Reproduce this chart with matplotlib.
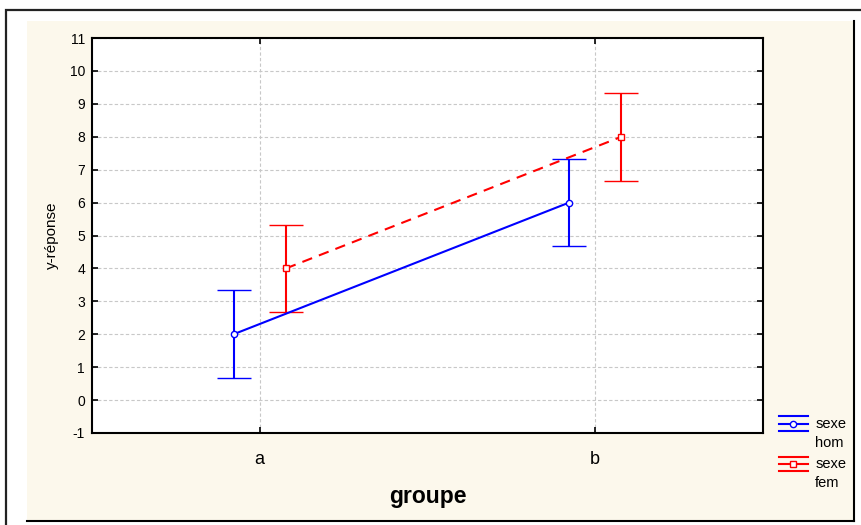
import matplotlib
matplotlib.use("Agg")
import matplotlib.pyplot as plt
from matplotlib.lines import Line2D
from matplotlib.patches import Rectangle
from matplotlib.legend_handler import HandlerBase

plt.rcParams['font.family'] = ['Liberation Sans', 'DejaVu Sans']
plt.rcParams['axes.unicode_minus'] = False

groups = ['a', 'b']
hom_mean = [2, 6]
hom_err = [1.33, 1.33]
fem_mean = [4, 8]
fem_err = [1.33, 1.33]
yticks = list(range(-1, 12))

cream = '#fcf8ec'
blue = '#0000ff'
red = '#ff0000'

fig = plt.figure(figsize=(8.62, 5.25), dpi=100)
fig.patch.set_facecolor('white')

# outer frame + cream panel with a dark right/bottom edge (kept behind the axes)
W, H = 862.0, 525.0
fig.add_artist(Rectangle((6 / W, -0.1), 1.2, 1 - 10 / H + 0.1, transform=fig.transFigure,
                         fill=False, edgecolor='#222222', lw=1.6, zorder=-3))
fig.add_artist(Rectangle((27 / W, 1 - 521 / H), (854 - 27) / W, (521 - 21) / H,
                         transform=fig.transFigure, facecolor=cream, edgecolor='none',
                         zorder=-2))
fig.add_artist(Line2D([27 / W, 854 / W], [1 - 521 / H, 1 - 521 / H], transform=fig.transFigure,
                      color='black', lw=1.5, zorder=-1))
fig.add_artist(Line2D([854 / W, 854 / W], [1 - 521 / H, 1 - 21 / H], transform=fig.transFigure,
                      color='black', lw=1.5, zorder=-1))

ax = fig.add_axes([92 / W, 1 - 433 / H, (763 - 92) / W, (433 - 38) / H])
ax.set_facecolor('white')

xs = list(range(len(groups)))
off = 0.078
x_hom = [x - off for x in xs]
x_fem = [x + off for x in xs]

eh = ax.errorbar(x_hom, hom_mean, yerr=hom_err, color=blue, lw=1.5, elinewidth=1.5,
                 capsize=12, capthick=1.5, marker='o', ms=4.5, mfc='white', mec=blue, mew=1,
                 zorder=3)
ef = ax.errorbar(x_fem, fem_mean, yerr=fem_err, color=red, lw=1.5, elinewidth=1.5,
                 capsize=12, capthick=1.5, marker='s', ms=4.5, mfc='white', mec=red, mew=1,
                 zorder=3)
ef[0].set_linestyle((0, (5, 3.5)))

ax.set_xlim(-0.5, 1.5)
ax.set_ylim(-1, 11)
ax.set_xticks(xs)
ax.set_xticklabels(groups, fontsize=13)
ax.set_yticks(yticks)
ax.tick_params(axis='y', labelsize=10, direction='in', length=4, width=1.2, right=True, pad=5)
ax.tick_params(axis='x', direction='in', length=4, width=1.2, top=True, pad=13)
ax.grid(True, color='#c8c8c8', linestyle=(0, (3, 2)), lw=0.8)
ax.set_axisbelow(True)
for s in ax.spines.values():
    s.set_linewidth(1.5)

ax.set_xlabel('groupe', fontsize=16.5, fontweight='bold', labelpad=12)
ax.set_ylabel('y-réponse', fontsize=11, labelpad=8)


class StatHandler(HandlerBase):
    def create_artists(self, legend, orig_handle, xdescent, ydescent, width, height,
                       fontsize, trans):
        c = orig_handle.get_color()
        m = orig_handle.get_marker()
        yc = height / 2 - ydescent + 0.7 * fontsize
        d = 0.5 * fontsize
        x0, x1 = -xdescent, width - xdescent
        arts = []
        for dy in (-d, 0, d):
            arts.append(Line2D([x0, x1], [yc + dy, yc + dy], color=c, lw=1.5, transform=trans))
        arts.append(Line2D([(x0 + x1) / 2], [yc], marker=m, ms=4.5, mfc='white', mec=c,
                           mew=1, lw=0, transform=trans))
        return arts


leg = fig.legend([eh[0], ef[0]], ['sexe\nhom', 'sexe\nfem'],
                 handler_map={Line2D: StatHandler()},
                 loc='upper left', bbox_to_anchor=(773 / W, 1 - 411 / H),
                 frameon=False, fontsize=10.5, handlelength=2.0, handletextpad=0.5,
                 labelspacing=0.45, borderaxespad=0)
for t in leg.get_texts():
    t.set_linespacing(1.5)
    t.set_multialignment('left')

fig.savefig('out.png', dpi=100, facecolor='white')
